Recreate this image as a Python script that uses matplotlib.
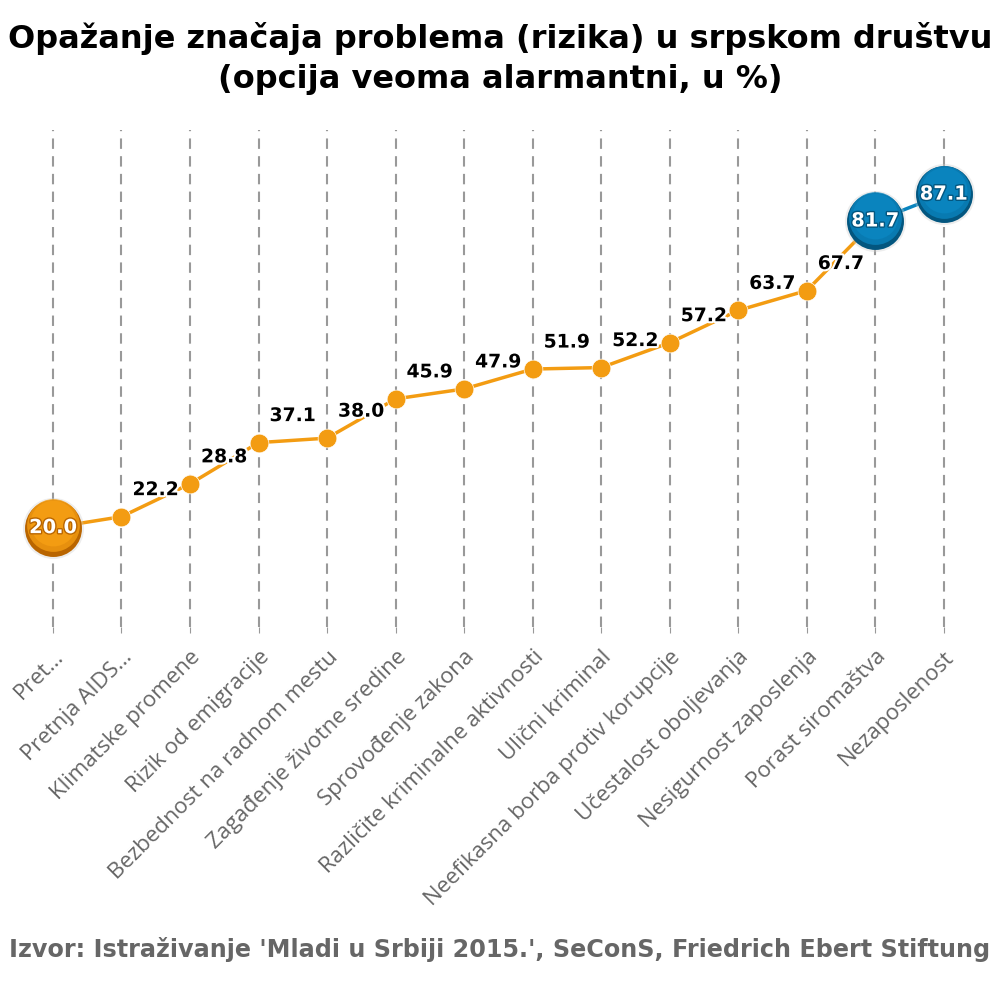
import matplotlib.pyplot as plt
import matplotlib.patheffects as pe

# data
categories = ["Pret…", "Pretnja AIDS…", "Klimatske promene", "Rizik od emigracije",
              "Bezbednost na radnom mestu", "Zagađenje životne sredine",
              "Sprovođenje zakona", "Različite kriminalne aktivnosti", "Ulični kriminal",
              "Neefikasna borba protiv korupcije", "Učestalost oboljevanja",
              "Nesigurnost zaposlenja", "Porast siromaštva", "Nezaposlenost"]
values = [20.0, 22.2, 28.8, 37.1, 38.0, 45.9, 47.9, 51.9, 52.2, 57.2, 63.7, 67.7, 81.7, 87.1]
big_orange = [0]
big_blue = [12, 13]

orange = "#F39C12"
orange_dark = "#B96500"
blue = "#0A84BE"
blue_dark = "#03567F"

fig = plt.figure(figsize=(10, 10), dpi=100)
ax = fig.add_axes([0.0187, 0.373, 0.9594, 0.497])
x = list(range(len(values)))

# vertical dashed guides
for xi in x:
    ax.axvline(xi, color="#999999", lw=1.5, ls=(0, (5, 3.5)), zorder=0)

# line: orange up to the 13th point, blue for the last segment
ax.plot(x[:13], values[:13], color=orange, lw=2.5, zorder=2)
ax.plot(x[12:], values[12:], color=blue, lw=2.5, zorder=2)

# small markers + labels
for i, v in enumerate(values):
    if i in big_orange or i in big_blue:
        continue
    ax.plot(i, v, "o", ms=13.5, color=orange, mec="white", mew=0.5, zorder=3)
    ax.annotate(f"{v:.1f}", (i, v), xytext=(34, 27), textcoords="offset pixels",
                ha="center", va="center", fontsize=13.5, fontweight="bold",
                family="DejaVu Sans", color="black", zorder=5,
                path_effects=[pe.withStroke(linewidth=3, foreground="white")])

# big markers with a simple shaded look
def big_marker(i, v, c, cd):
    ax.plot(i, v, "o", ms=44, color="#cccccc", alpha=0.35, mew=0, zorder=3)
    ax.plot(i, v, "o", ms=41, color=cd, mew=0, zorder=3)
    ax.plot(i, v + 0.5, "o", ms=38, color=c, mew=0, zorder=3, alpha=0.8)
    ax.plot(i, v + 0.9, "o", ms=33, color=c, mew=0, zorder=3)
    ax.text(i, v, f"{v:.1f}", ha="center", va="center", fontsize=14,
            fontweight="bold", color="white", zorder=6,
            path_effects=[pe.withStroke(linewidth=2, foreground=cd)])

for i in big_orange:
    big_marker(i, values[i], orange, orange_dark)
for i in big_blue:
    big_marker(i, values[i], blue, blue_dark)

ax.set_xlim(-0.5, 13.5)
ax.set_ylim(0, 100)
ax.set_yticks([])
ax.set_xticks(x)
ax.set_xticklabels(categories, rotation=45, ha="right", rotation_mode="anchor",
                   fontsize=16, color="#666666", family="Open Sans")
ax.tick_params(axis="x", length=4, color="#999999", pad=10)
for s in ax.spines.values():
    s.set_visible(False)

fig.text(0.5, 0.978, "Opažanje značaja problema (rizika) u srpskom društvu\n(opcija veoma alarmantni, u %)",
         ha="center", va="top", fontsize=23, fontweight="bold", family="DejaVu Sans",
         linespacing=1.38)
fig.text(0.5, 0.05, "Izvor: Istraživanje 'Mladi u Srbiji 2015.', SeConS, Friedrich Ebert Stiftung",
         ha="center", va="center", fontsize=17.2, fontweight="bold", family="DejaVu Sans",
         color="#666666")

plt.savefig("out.png", dpi=100)
